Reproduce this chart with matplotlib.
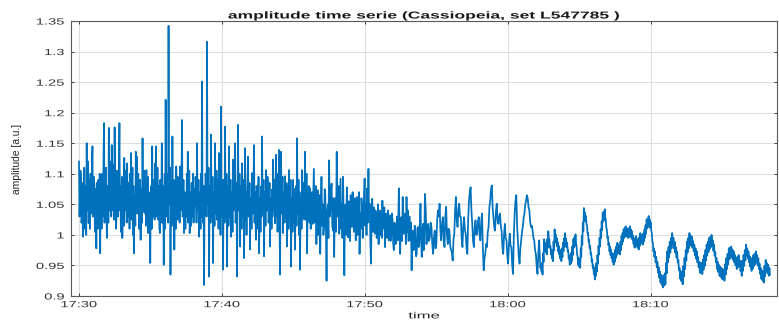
import matplotlib
matplotlib.use('Agg')
import matplotlib.pyplot as plt
import numpy as np
from matplotlib.patheffects import AbstractPathEffect
from matplotlib.transforms import Affine2D
from matplotlib.ticker import FuncFormatter

# amplitude samples, one list per stretch of the recording
amp_1730 = [
    1.120, 1.030, 1.060, 1.105, 1.095, 1.020, 1.025, 1.085, 0.997, 1.070,
    1.040, 1.110, 1.010, 1.065, 1.080, 1.000, 1.150, 1.040, 1.060, 1.120,
    1.019, 1.090, 1.070, 1.010, 1.100, 1.035, 1.045, 1.120, 1.145, 1.030,
    1.050, 1.095, 1.080, 1.005, 1.020, 1.075, 0.978, 1.085, 1.060, 1.010,
    1.090, 1.040, 1.030, 1.100, 0.970, 1.080, 1.050, 1.010, 1.100, 1.030,
    1.040, 1.130, 1.183, 1.020, 1.060, 1.100, 1.110, 1.035, 0.995, 1.070,
    1.080, 1.020, 1.175, 1.040, 1.050, 1.110, 1.120, 1.030, 1.147, 1.060,
    1.040, 1.115, 1.090, 1.025, 1.176, 1.045, 1.070, 1.010, 1.036, 1.105,
    1.100, 1.030, 1.060, 1.120, 1.183, 1.040, 1.080, 1.005, 1.020, 1.095,
    0.995, 1.060, 1.070, 1.015, 1.126, 1.050, 1.040, 1.105, 1.090, 1.020,
    1.117, 1.040, 1.030, 1.085, 1.047, 1.010, 1.100, 1.045, 1.134, 1.025,
    1.050, 1.110, 1.000, 1.080, 0.970, 1.065, 1.060, 1.015, 1.136, 1.050,
    1.128, 1.035, 1.040, 1.100, 1.080, 1.010, 1.025, 1.090, 0.992, 1.075,
    1.060, 1.020, 1.158, 1.040, 1.050, 1.105, 1.036, 1.070, 1.090, 1.015,
    1.106, 1.040, 1.030, 1.095, 1.003, 1.070, 1.060, 1.020, 0.954, 1.065,
    1.080, 1.010, 1.145, 1.050, 1.030, 1.085, 1.090, 1.025, 1.117, 1.040,
    1.145, 1.030, 1.040, 1.110, 1.025, 1.075, 1.080, 1.010, 1.003, 1.090,
    1.060, 1.020, 1.150, 1.045, 1.020, 1.080, 0.951, 1.060, 1.100, 1.010,
    1.221, 1.030, 1.040, 1.100, 1.079, 1.020, 1.342, 1.060, 1.050, 1.110,
    0.935, 1.070, 1.090, 1.015, 1.161, 1.045, 1.020, 1.090, 0.976, 1.065,
    1.070, 1.010, 1.112, 1.030, 1.040, 1.095, 1.025, 1.080, 1.080, 1.020,
    1.112, 1.040, 1.050, 1.100, 1.188, 1.030, 1.030, 1.090, 1.003, 1.070,
    1.060, 1.010, 1.068, 1.030, 1.100, 1.040, 1.136, 1.020, 1.040, 1.105,
    1.003, 1.060, 1.070, 1.015, 1.085, 1.030, 1.050, 1.100, 1.020, 1.075,
    1.060,
]
amp_1738 = [
    1.047, 1.095, 1.080, 1.020, 1.150, 1.050, 1.040, 1.090, 0.997, 1.070,
    1.063, 1.010, 1.100, 1.030, 1.251, 1.060, 1.020, 1.080, 0.918, 1.040,
    1.047, 1.100, 1.090, 1.030, 1.316, 1.050, 1.060, 1.110, 0.932, 1.045,
    1.080, 1.020, 1.164, 1.040, 1.030, 1.095, 0.954, 1.060, 1.070, 1.015,
    1.150, 1.035, 1.050, 1.105, 1.025, 1.075, 1.090, 1.010, 1.134, 1.045,
    1.060, 1.000, 1.210, 1.030, 1.040, 1.090, 0.943, 1.060, 1.090, 1.020,
    1.177, 1.040, 1.030, 1.100, 0.948, 1.055, 1.080, 1.015, 1.145, 1.030,
    1.050, 1.090, 0.997, 1.065, 1.070, 1.005, 1.123, 1.040, 1.060, 1.095,
    1.150, 1.020, 1.030, 1.085, 0.932, 1.060, 1.180, 1.040, 1.050, 1.100,
    0.981, 1.070, 1.080, 1.010, 1.117, 1.035, 1.030, 1.090, 0.962, 1.055,
    1.142, 1.025, 1.070, 1.000, 1.057, 1.095, 1.128, 1.030, 1.040, 1.085,
    0.976, 1.060, 1.060, 1.010, 1.101, 1.035, 1.050, 1.090, 1.147, 1.020,
    1.070, 1.020, 0.992, 1.080, 1.068, 1.010, 1.030, 1.095, 0.970, 1.045,
    1.060, 1.005, 1.079, 1.030, 1.161, 1.050, 1.040, 1.090, 0.965, 1.060,
    1.070, 1.015, 1.106, 1.040, 1.050, 1.095, 1.079, 1.020, 1.030, 1.085,
    0.981, 1.060, 1.060, 1.010, 1.074, 1.030, 1.123, 1.045, 1.040, 1.090,
    1.019, 1.080, 1.131, 1.030, 1.063, 1.005, 1.100, 1.040, 1.139, 1.020,
    0.935, 1.060, 1.136, 1.035, 1.050, 1.095, 1.003, 1.065, 1.070, 1.020,
    1.096, 1.030, 1.040, 1.085, 0.981, 1.055, 1.080, 1.010, 1.106, 1.040,
    1.030, 1.090, 0.948, 1.050, 1.060, 1.005, 1.090, 1.030, 1.020, 1.075,
    0.976, 1.060, 1.080, 1.015, 1.158, 1.035, 1.047, 1.090, 1.000, 1.070,
    0.943, 1.050, 1.060, 1.010, 1.106, 1.030, 1.040, 1.085, 1.025, 1.070,
    1.136, 1.025, 1.060, 1.100, 0.970, 1.040, 1.030, 1.080, 1.079, 1.020,
]
amp_1746 = [
    1.076, 1.010, 1.030, 1.070, 1.018, 1.060, 1.108, 1.020, 1.040, 1.080,
    0.985, 1.045, 1.073, 1.000, 1.020, 1.065, 0.969, 1.040, 1.095, 1.015,
    1.050, 1.000, 1.013, 1.075, 1.067, 1.010, 0.925, 1.035, 1.050, 0.995,
    1.122, 1.030, 1.040, 1.075, 1.084, 1.015, 1.007, 1.060, 0.964, 1.045,
    1.060, 1.005, 1.136, 1.030, 1.030, 1.080, 1.002, 1.050, 1.092, 1.010,
    1.050, 0.995, 1.095, 1.025, 0.934, 1.040, 1.050, 1.000, 1.078, 1.020,
    0.996, 1.055, 1.040, 0.990, 1.065, 1.015, 1.013, 1.070, 1.059, 1.005,
    1.020, 1.060, 0.991, 1.040, 1.062, 1.000, 1.030, 1.070, 0.969, 1.035,
    1.010, 1.060, 1.040, 0.995, 1.032, 1.065, 1.092, 1.015, 1.050, 1.000,
    1.076, 1.020, 1.108, 1.030, 1.051, 0.990, 0.953, 1.030, 1.059, 1.005,
    1.020, 1.045, 1.002, 1.040, 1.035, 0.995, 1.010, 1.050, 0.985, 1.030,
    1.040, 1.000, 1.035, 0.995, 1.056, 1.010, 1.020, 1.045, 0.980, 1.025,
    1.035, 0.995, 1.010, 1.040, 0.991, 1.030, 1.032, 0.990, 1.002, 1.035,
    1.024, 0.985, 0.975, 1.020, 1.013, 0.985, 1.002, 1.030, 0.991, 1.025,
    1.076, 1.000, 0.969, 1.020, 1.029, 0.990, 1.062, 1.010, 1.002, 1.035,
    1.024, 0.985, 1.062, 1.005, 1.040, 0.990, 1.010, 1.030, 0.991, 1.020,
    0.942, 1.000, 1.007, 0.975, 0.980, 1.015, 0.991, 0.965, 0.969, 1.010,
    1.013, 0.980, 0.985, 1.020, 1.051, 0.995, 0.964, 1.005, 1.018, 0.975,
    0.985,
]
amp_1754 = [
    1.067, 1.040, 0.985, 1.005, 1.018, 0.990, 0.996, 1.020, 1.013, 0.985,
    0.969, 0.995, 1.007, 0.978, 0.985, 1.025, 1.040, 1.030, 1.051, 1.005,
    0.991, 1.018, 1.029, 0.995, 0.980, 1.030, 1.046, 1.000, 0.985, 1.010,
    1.007, 0.982, 0.975, 0.972, 0.958, 0.992, 1.002, 1.040, 1.062, 1.025,
    1.013, 1.040, 1.051, 1.030, 1.029, 0.995, 0.980, 1.015, 1.029, 1.008,
    1.002, 0.978, 0.969, 1.025, 1.056, 1.070, 1.078, 1.040, 1.018, 0.990,
    0.980, 1.012, 1.024, 1.000, 1.002, 1.022, 1.029, 1.000, 0.991, 1.022,
    1.035, 0.980, 0.942, 0.962, 0.969, 0.985, 0.980, 1.004, 1.013, 1.045,
    1.056, 1.075, 1.081, 1.045, 1.029, 1.012, 1.007, 1.038, 1.051, 1.025,
    1.018, 1.030, 1.035, 1.015, 1.007, 0.980, 0.969, 1.000, 1.018, 0.995,
    0.991, 0.965, 0.953, 0.985, 1.002, 0.982, 0.980, 0.950, 0.936, 1.000,
    1.035, 1.055, 1.065, 1.015, 0.991, 0.965, 0.953, 0.978, 0.991, 1.005,
    1.013, 1.028, 1.035, 1.050, 1.056, 1.065, 1.059, 1.045, 1.040, 1.022,
    1.013, 1.015, 1.007, 0.995, 0.991, 0.975, 0.969, 0.948, 0.936, 0.970,
    0.991,
]
amp_1802 = [
    0.960, 0.946, 0.954, 0.940, 0.949, 0.935, 0.970, 0.956, 0.993, 0.979,
    0.987, 0.972, 0.982, 0.968, 0.993, 0.979, 1.006, 0.992, 0.993, 0.979,
    0.982, 0.968, 0.976, 0.961, 0.971, 0.957, 0.989, 0.975, 1.009, 0.995,
    1.001, 0.987, 0.995, 0.981, 0.988, 0.973, 0.982, 0.968, 0.976, 0.961,
    0.971, 0.957, 0.978, 0.964, 0.987, 0.973, 0.994, 0.980, 1.003, 0.989,
    0.994, 0.980, 0.987, 0.973, 0.975, 0.961, 0.965, 0.951, 0.967, 0.953,
    0.971, 0.957, 0.981, 0.967, 0.993, 0.979, 0.996, 0.982, 1.001, 0.987,
    0.982, 0.968, 0.965, 0.951, 0.962, 0.948, 0.960, 0.946, 0.978, 0.964,
    0.998, 0.984, 1.020, 1.006, 1.044, 1.030, 1.037, 1.022, 1.031, 1.017,
    1.016, 1.002, 1.003, 0.989, 0.992, 0.978, 0.982, 0.968, 0.970, 0.956,
    0.960, 0.946, 0.950, 0.936, 0.941, 0.927, 0.947, 0.933, 0.954, 0.940,
    0.967, 0.953, 0.982, 0.968, 0.995, 0.981, 1.009, 0.995, 1.022, 1.008,
    1.036, 1.022, 1.038, 1.024, 1.042, 1.028, 1.025, 1.011, 1.009, 0.995,
    0.997, 0.983, 0.987, 0.973, 0.981, 0.967, 0.976, 0.962, 0.970, 0.956,
    0.965, 0.951, 0.970, 0.956, 0.976, 0.962, 0.981, 0.967, 0.987, 0.973,
    0.984, 0.970, 0.982, 0.968, 0.989, 0.975, 0.998, 0.984, 1.003, 0.989,
    1.009, 0.995, 1.011, 0.997, 1.014, 1.000, 1.011, 0.997, 1.009, 0.995,
    1.011, 0.997, 1.014, 1.000, 1.009, 0.995, 1.006, 0.992, 0.999, 0.985,
    0.993, 0.979, 0.995, 0.981, 0.998, 0.984, 0.993, 0.979, 0.990, 0.976,
    0.996, 0.982, 1.003, 0.989, 1.000, 0.986, 0.998, 0.984, 1.003, 0.989,
    1.009, 0.995, 1.016, 1.002, 1.025, 1.011, 1.027, 1.013, 1.031, 1.017,
    1.025, 1.011, 1.020, 1.006, 1.003, 0.989, 0.987, 0.973, 0.978, 0.964,
]
amp_1810 = [
    0.973, 0.955, 0.964, 0.947, 0.956, 0.938, 0.947, 0.930, 0.940, 0.922,
    0.935, 0.918, 0.932, 0.914, 0.934, 0.917, 0.937, 0.919, 0.954, 0.937,
    0.973, 0.955, 0.980, 0.963, 0.989, 0.971, 0.995, 0.978, 1.003, 0.985,
    0.995, 0.978, 0.989, 0.971, 0.980, 0.963, 0.973, 0.955, 0.959, 0.942,
    0.946, 0.928, 0.941, 0.924, 0.937, 0.919, 0.949, 0.932, 0.962, 0.944,
    0.975, 0.958, 0.989, 0.971, 0.995, 0.978, 1.003, 0.985, 0.999, 0.982,
    0.997, 0.979, 0.990, 0.973, 0.984, 0.966, 0.978, 0.961, 0.973, 0.955,
    0.964, 0.947, 0.956, 0.938, 0.954, 0.937, 0.954, 0.936, 0.960, 0.943,
    0.967, 0.949, 0.975, 0.958, 0.984, 0.966, 0.989, 0.972, 0.995, 0.977,
    0.997, 0.980, 1.000, 0.982, 0.991, 0.974, 0.984, 0.966, 0.972, 0.955,
    0.962, 0.944, 0.956, 0.939, 0.951, 0.933, 0.948, 0.931, 0.946, 0.928,
    0.944, 0.927, 0.943, 0.925, 0.952, 0.935, 0.962, 0.944, 0.969, 0.952,
    0.978, 0.960, 0.979, 0.962, 0.981, 0.963, 0.976, 0.959, 0.973, 0.955,
    0.967, 0.950, 0.962, 0.944, 0.964, 0.947, 0.967, 0.949, 0.958, 0.941,
    0.951, 0.933, 0.958, 0.941, 0.967, 0.949, 0.975, 0.958, 0.984, 0.966,
    0.978, 0.961, 0.973, 0.955, 0.965, 0.948, 0.959, 0.941, 0.962, 0.945,
    0.967, 0.949, 0.969, 0.952, 0.973, 0.955, 0.967, 0.950, 0.962, 0.944,
    0.953, 0.936, 0.946, 0.928, 0.942, 0.925, 0.940, 0.922, 0.949, 0.932,
    0.959, 0.941, 0.954, 0.937, 0.951, 0.933, 0.946, 0.935,
]
segments = [amp_1730, amp_1738, amp_1746, amp_1754, amp_1802, amp_1810]

# minutes after 17:30 at which each stretch starts, and where the last one ends
seg_start_min = [0.0, 8.12, 16.17, 24.21, 32.26, 40.31]
seg_end_min = 48.36

tick_min = [0, 10, 20, 30, 40]
tick_labels = ['17:30', '17:40', '17:50', '18:00', '18:10']
amp_ticks = [0.9, 0.95, 1.0, 1.05, 1.1, 1.15, 1.2, 1.25, 1.3, 1.35]


class WideText(AbstractPathEffect):
    """Draw text glyphs stretched sideways about the left, centre or right of the text."""

    def __init__(self, sx, anchor='center'):
        super().__init__()
        self.sx = sx
        self.anchor = anchor

    def draw_path(self, renderer, gc, tpath, affine, rgbFace=None):
        box = tpath.get_extents(affine)
        px = {'left': box.x0, 'center': 0.5 * (box.x0 + box.x1), 'right': box.x1}[self.anchor]
        wide = affine + Affine2D().translate(-px, 0).scale(self.sx, 1).translate(px, 0)
        renderer.draw_path(gc, tpath, wide, rgbFace)


plt.rcParams['font.family'] = ['Liberation Sans', 'DejaVu Sans']

W, H = 779, 322
fig = plt.figure(figsize=(W / 100, H / 100), dpi=100)
ax = fig.add_axes([71 / W, 1 - 296 / H, 706 / W, 275 / H])

t_parts = []
for i, seg in enumerate(segments):
    last = i == len(segments) - 1
    t1 = seg_end_min if last else seg_start_min[i + 1]
    t_parts.append(np.linspace(seg_start_min[i], t1, len(seg), endpoint=last))
t = np.concatenate(t_parts)
amp = np.concatenate(segments)

ax.plot(t, amp, color='#0072BD', lw=1.25)

ax.set_xlim(-0.56, 48.85)
ax.set_ylim(0.9, 1.35)
ax.set_xticks(tick_min, labels=tick_labels)
ax.set_yticks(amp_ticks)
ax.yaxis.set_major_formatter(FuncFormatter(lambda v, p: '%g' % round(v, 2)))

ax.grid(True, color='#dedede', lw=0.8)
ax.set_axisbelow(True)
for sp in ax.spines.values():
    sp.set_color('#595959')
    sp.set_linewidth(0.8)

ax.tick_params(axis='both', direction='in', length=2.5, width=0.7, color='#404040',
               top=True, right=True, labelsize=6.4, labelcolor='#333333')
ax.tick_params(axis='x', pad=3.0)
ax.tick_params(axis='y', pad=4.8)
for lab in ax.get_xticklabels():
    lab.set_path_effects([WideText(1.65, 'center')])
for lab in ax.get_yticklabels():
    lab.set_path_effects([WideText(1.65, 'right')])

title = ax.set_title('amplitude time serie (Cassiopeia, set L547785 )', fontsize=7.2,
                     fontweight='bold', pad=1.8, color='#1a1a1a')
title.set_path_effects([WideText(1.75, 'center')])

xl = ax.set_xlabel('time', fontsize=6.5, color='#262626')
xl.set_path_effects([WideText(1.85, 'center')])
ax.xaxis.set_label_coords(0.5, -0.056)

ax.set_ylabel('amplitude [a.u.]', fontsize=7.4, color='#262626',
              family=['Liberation Sans Narrow', 'Liberation Sans'])
ax.yaxis.set_label_coords(-0.069, 0.5)

fig.savefig('out.png', dpi=100)
